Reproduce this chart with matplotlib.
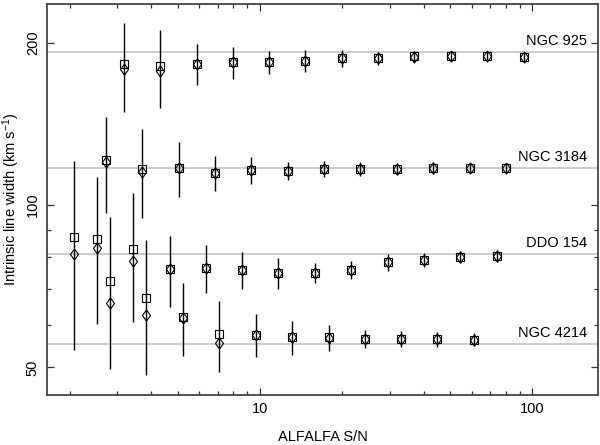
#!/usr/bin/env python3
"""Larghezza intrinseca della riga in funzione di S/N per quattro galassie."""

import matplotlib

matplotlib.use("Agg")
import matplotlib.pyplot as plt
from matplotlib.ticker import FixedLocator, NullFormatter

# valori: S/N, larghezza (quadrati), larghezza (rombi), errore
galaxies = ["NGC 925", "NGC 3184", "DDO 154", "NGC 4214"]
true_width = [192.0, 117.0, 81.2, 55.2]

sn_925 = [3.16, 4.31, 5.87, 7.96, 10.8, 14.7, 20.0, 27.2, 37.0, 50.4, 68.5, 93.2]
sq_925 = [183.0, 181.0, 183.0, 184.0, 183.9, 185.3, 187.3, 187.0, 188.7, 189.0, 188.7, 188.3]
di_925 = [179.0, 177.4, 182.5, 184.0, 184.0, 185.0, 187.0, 187.0, 188.5, 189.0, 188.7, 188.3]
er_925 = [34.5, 29.9, 16.0, 12.8, 8.8, 9.0, 7.0, 5.5, 4.5, 4.0, 4.0, 3.5]

sn_3184 = [2.72, 3.70, 5.03, 6.85, 9.32, 12.7, 17.2, 23.4, 31.9, 43.4, 59.0, 80.3]
sq_3184 = [121.2, 116.5, 117.3, 114.8, 116.1, 115.8, 116.5, 116.5, 116.5, 117.0, 117.0, 117.2]
di_3184 = [120.4, 115.3, 117.0, 114.8, 116.0, 115.8, 116.5, 116.5, 116.5, 117.0, 117.0, 117.2]
er_3184 = [24.5, 21.7, 13.8, 8.4, 6.5, 4.5, 4.0, 3.5, 3.0, 3.0, 2.5, 2.5]

sn_154 = [2.52, 3.42, 4.66, 6.34, 8.62, 11.7, 15.9, 21.7, 29.5, 40.1, 54.6, 74.2]
sq_154 = [86.4, 83.0, 76.1, 76.5, 75.9, 74.8, 74.8, 75.7, 78.3, 79.1, 80.2, 80.4]
di_154 = [83.1, 78.6, 76.0, 76.4, 75.9, 74.8, 74.8, 75.7, 78.3, 79.1, 80.2, 80.4]
er_154 = [26.2, 22.2, 11.5, 7.9, 6.1, 4.8, 3.2, 2.9, 3.0, 2.5, 2.0, 2.0]

sn_4214 = [2.07, 2.82, 3.83, 5.21, 7.09, 9.65, 13.1, 17.9, 24.3, 33.0, 44.9, 61.1]
sq_4214 = [87.3, 72.3, 67.3, 62.0, 57.7, 57.5, 56.9, 56.8, 56.5, 56.4, 56.4, 56.3]
di_4214 = [81.2, 65.9, 62.5, 61.8, 55.5, 57.3, 56.8, 56.7, 56.5, 56.4, 56.4, 56.3]
er_4214 = [33.4, 22.7, 19.0, 9.6, 8.7, 5.3, 4.1, 3.1, 2.1, 1.9, 1.8, 1.6]

y_major = [50, 100, 200]
y_minor = [60, 70, 80, 90]

DIAMOND = [(0, 1), (0.72, 0), (0, -1), (-0.72, 0), (0, 1)]


def main() -> None:
    plt.rcParams["font.family"] = ["Liberation Sans", "DejaVu Sans"]
    plt.rcParams["mathtext.default"] = "regular"

    fig = plt.figure(figsize=(6.0, 4.45), dpi=100)
    ax = fig.add_axes([0.078, 0.112, 0.919, 0.879])

    series = [
        (sn_925, sq_925, di_925, er_925),
        (sn_3184, sq_3184, di_3184, er_3184),
        (sn_154, sq_154, di_154, er_154),
        (sn_4214, sq_4214, di_4214, er_4214),
    ]

    for name, ref in zip(galaxies, true_width):
        ax.axhline(ref, color="#c4c4c4", linewidth=1.2, zorder=1)
        ax.annotate(
            name,
            xy=(0.98, ref),
            xycoords=("axes fraction", "data"),
            xytext=(0, 3),
            textcoords="offset points",
            ha="right",
            va="bottom",
            fontsize=10.5,
        )

    for sn, sq, di, er in series:
        ax.errorbar(sn, sq, yerr=er, fmt="none", ecolor="black",
                    elinewidth=1.0, capsize=0, zorder=2)
        ax.plot(sn, sq, linestyle="none", marker="s", markersize=6.0,
                markerfacecolor="none", markeredgecolor="black",
                markeredgewidth=0.8, zorder=3)
        ax.plot(sn, di, linestyle="none", marker=DIAMOND, markersize=8.0,
                markerfacecolor="none", markeredgecolor="black",
                markeredgewidth=0.8, zorder=3)

    ax.set_xscale("log")
    ax.set_yscale("log")
    ax.set_xlim(1.65, 175)
    ax.set_ylim(44.4, 236)

    ax.xaxis.set_major_locator(FixedLocator([10, 100]))
    ax.set_xticklabels(["10", "100"])
    ax.yaxis.set_major_locator(FixedLocator(y_major))
    ax.yaxis.set_minor_locator(FixedLocator(y_minor))
    ax.yaxis.set_minor_formatter(NullFormatter())
    ax.set_yticklabels([str(v) for v in y_major], rotation=90, va="center")

    ax.tick_params(which="both", direction="in", top=True, right=True,
                   labelsize=10.5, color="#333333")
    ax.tick_params(which="major", length=5, width=0.9, pad=5)
    ax.tick_params(which="minor", length=3, width=0.9)
    for spine in ax.spines.values():
        spine.set_linewidth(1.3)
        spine.set_color("#444444")

    ax.set_xlabel("ALFALFA S/N", fontsize=10.5, labelpad=10)
    ax.set_ylabel(r"Intrinsic line width (km s$^{-1}$)", fontsize=10.5, labelpad=3)

    fig.savefig("out.png", dpi=100)
    plt.close(fig)


if __name__ == "__main__":
    main()
